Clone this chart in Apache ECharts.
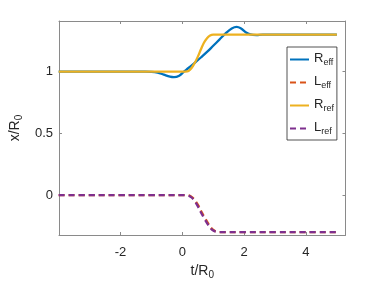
<!DOCTYPE html>
<html><head><meta charset="utf-8">
<script src="https://cdn.jsdelivr.net/npm/echarts@6/dist/echarts.min.js"></script>
<style>html,body{margin:0;padding:0;background:#fff}#c{width:382px;height:286px}</style>
</head><body><div id="c"></div>
<script>
// ---- data ----
var reffT = [-4, -3, -2, -1.2, -1, -0.8, -0.6, -0.4, -0.27, -0.1, 0.05, 0.2, 0.4, 0.6, 0.8, 1.0, 1.2, 1.4, 1.6, 1.76, 1.9, 2.05, 2.2, 2.4, 2.6, 3, 4, 5];
var reffY = [1, 1, 1, 1, 0.999, 0.993, 0.976, 0.96, 0.956, 0.968, 1.0, 1.03, 1.072, 1.115, 1.16, 1.21, 1.26, 1.31, 1.35, 1.363, 1.35, 1.32, 1.302, 1.297, 1.3, 1.3, 1.3, 1.3];
var rrefT = [-4, -3, -2, -1, 0, 0.1, 0.2, 0.3, 0.4, 0.5, 0.6, 0.7, 0.8, 0.9, 1.0, 1.2, 2, 3, 4, 5];
var rrefY = [1, 1, 1, 1, 1, 1, 1.005, 1.03, 1.07, 1.12, 1.18, 1.235, 1.272, 1.293, 1.3, 1.3, 1.3, 1.3, 1.3, 1.3];
var lrefT = [-4, -3, -2, -1, 0, 0.1, 0.2, 0.3, 0.4, 0.5, 0.6, 0.7, 0.8, 0.9, 1.0, 1.1, 1.2, 2, 3, 4, 5];
var lrefY = [0, 0, 0, 0, 0, 0, -0.004, -0.02, -0.05, -0.09, -0.14, -0.185, -0.228, -0.265, -0.288, -0.298, -0.3, -0.3, -0.3, -0.3, -0.3];
var leffT = [-4, -3, -2, -1, 0, 0.13, 0.23, 0.33, 0.43, 0.53, 0.63, 0.73, 0.83, 0.93, 1.03, 1.13, 1.23, 2, 3, 4, 5];
var leffY = [0, 0, 0, 0, 0, 0, -0.004, -0.02, -0.05, -0.09, -0.14, -0.185, -0.228, -0.265, -0.288, -0.298, -0.3, -0.3, -0.3, -0.3, -0.3];
var xTicks = [-2, 0, 2, 4];
var yTicks = [0, 0.5, 1];
var seriesNames = ['R_eff', 'L_eff', 'R_ref', 'L_ref'];

function pairs(t, y) { return t.map(function (v, i) { return [v, y[i]]; }); }
var FONT = 'Liberation Sans, Arial, Helvetica, sans-serif';
var TXT = '#262626';
var AX = '#8a8a8a';
function sub(name) {
  var p = name.split('_');
  return '{m|' + p[0] + '}{s|' + p[1] + '}';
}
var rich = {
  m: { fontSize: 13, fontFamily: FONT, color: TXT, lineHeight: 15, verticalAlign: 'top' },
  s: { fontSize: 9, fontFamily: FONT, color: TXT, lineHeight: 15, padding: [6, 0, 0, 0], verticalAlign: 'top' }
};
var richName = {
  m: { fontSize: 14, fontFamily: FONT, color: TXT, lineHeight: 16, verticalAlign: 'top' },
  s: { fontSize: 10, fontFamily: FONT, color: TXT, lineHeight: 16, padding: [6, 0, 0, 0], verticalAlign: 'top' }
};

var chart = echarts.init(document.getElementById('c'), null, { renderer: 'canvas' });
var colors = ['#0072BD', '#D95319', '#EDB120', '#7E2F8E'];
var data = [pairs(reffT, reffY), pairs(leffT, leffY), pairs(rrefT, rrefY), pairs(lrefT, lrefY)];
var types = ['solid', [6, 4], 'solid', [6, 4]];

var lineCommon = { show: true, onZero: false, lineStyle: { color: AX, width: 1 } };
var tickCommon = { show: true, inside: true, length: 3, lineStyle: { color: AX, width: 1 } };
chart.setOption({
  animation: false,
  backgroundColor: '#fff',
  grid: { left: 55, right: 36.5, top: 21, bottom: 51, containLabel: false },
  xAxis: [{
    type: 'value', min: -3.99, max: 5.28,
    axisLine: lineCommon,
    axisTick: Object.assign({ customValues: xTicks }, tickCommon),
    axisLabel: { customValues: xTicks, color: TXT, fontSize: 13, fontFamily: FONT, margin: 11 },
    splitLine: { show: false },
    name: '{m|t/R}{s|0}', nameLocation: 'middle', nameGap: 22,
    nameTextStyle: { rich: richName }
  }, {
    type: 'value', min: -3.99, max: 5.28, position: 'top',
    axisLine: lineCommon,
    axisTick: Object.assign({ customValues: xTicks }, tickCommon),
    axisLabel: { show: false }, splitLine: { show: false }
  }],
  yAxis: [{
    type: 'value', min: -0.324, max: 1.411,
    axisLine: lineCommon,
    axisTick: Object.assign({ customValues: yTicks }, tickCommon),
    axisLabel: { customValues: yTicks, color: TXT, fontSize: 13, fontFamily: FONT, margin: 6 },
    splitLine: { show: false },
    name: '{m|x/R}{s|0}', nameLocation: 'middle', nameGap: 34, nameRotate: 90,
    nameTextStyle: { rich: richName }
  }, {
    type: 'value', min: -0.324, max: 1.411, position: 'right',
    axisLine: lineCommon,
    axisTick: Object.assign({ customValues: yTicks }, tickCommon),
    axisLabel: { show: false }, splitLine: { show: false }
  }],
  legend: {
    orient: 'vertical', left: 287, top: 47,
    padding: [5, 3, 4, 2], itemGap: 8, itemWidth: 19, itemHeight: 10,
    borderColor: '#262626', borderWidth: 0.8, backgroundColor: '#fff',
    data: seriesNames,
    itemStyle: { opacity: 0 },
    formatter: sub,
    textStyle: { rich: rich }
  },
  series: seriesNames.map(function (n, i) {
    return {
      name: n, type: 'line', data: data[i], symbol: 'none', smooth: 0.4,
      xAxisIndex: 0, yAxisIndex: 0, clip: true,
      lineStyle: { color: colors[i], width: 2.3, type: types[i] },
      itemStyle: { color: colors[i] },
      z: 2 + i
    };
  })
});
</script></body></html>
